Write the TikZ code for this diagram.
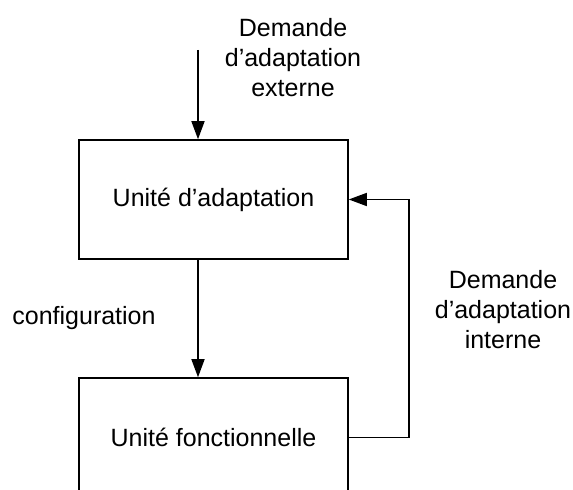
\documentclass[tikz,border=0pt]{standalone}
\usepackage{fontspec}
\setmainfont{Liberation Sans}
\usetikzlibrary{arrows.meta}
\newlength{\du}
\setlength{\du}{0.5pt}
\begin{document}
\begin{tikzpicture}[x=1\du,y=-1\du,
  every node/.style={font=\fontsize{12.5}{15}\selectfont},
  unitbox/.style={draw,line width=1.5\du,minimum width=269\du,minimum height=119\du,inner sep=0pt},
  flow/.style={draw,line width=1.5\du,-{Triangle[length=9pt,width=6.5pt]}},
  lbl/.style={align=center,inner sep=0pt}]
\useasboundingbox (0,0) rectangle (573,490);
\clip (0,0) rectangle (573,490);
% boxes
\node[unitbox] (adapt) at (213.5,199.5) {Unit\'e d’adaptation};
\node[unitbox] (fonct) at (213.5,437.5) {Unit\'e fonctionnelle};
% external request
\coordinate (ext) at (198,50);
\node[lbl] (extlbl) at (293,58) {Demande\\d’adaptation\\externe};
\draw[flow] (ext) -- (ext |- adapt.north);
% configuration
\draw[flow] (adapt.south -| ext) -- (fonct.north -| ext);
\node[lbl] (conflbl) at (84,318) {configuration};
% internal request
\draw[flow] (fonct.east) -- ++(60,0) |- (adapt.east);
\node[lbl] (intlbl) at (503,310) {Demande\\d’adaptation\\interne};
\end{tikzpicture}
\end{document}
